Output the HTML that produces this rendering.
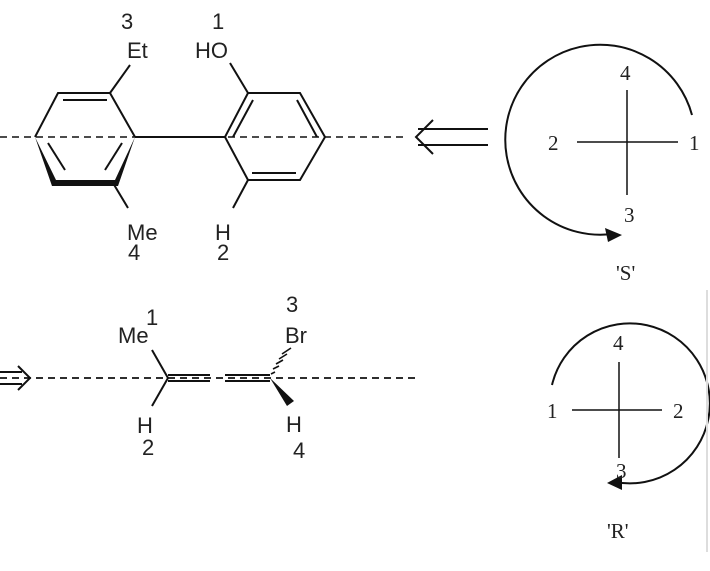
<!DOCTYPE html><html><head><style>body{margin:0;background:#fff}text{font-family:"Liberation Sans",sans-serif;font-size:22px;fill:#222}.s{font-family:"Liberation Serif",serif;font-size:21px}</style></head><body>
<svg width="710" height="566" viewBox="0 0 710 566" xmlns="http://www.w3.org/2000/svg" stroke="#111" stroke-width="2" fill="none">
<line x1="0" y1="137" x2="405" y2="137" stroke-dasharray="7,5" stroke-width="1.6"/>
<path d="M35 137 L58 93 L110 93 L135 137"/>
<line x1="63" y1="100" x2="107" y2="100"/>
<path d="M35 137 L52 186 L118 186 L135 137 L115 180 L56 180 Z" fill="#111" stroke="none"/>
<line x1="48" y1="143" x2="65" y2="170"/><line x1="122" y1="143" x2="105" y2="170"/>
<line x1="110" y1="93" x2="130" y2="65"/><line x1="113" y1="183" x2="128" y2="208"/>
<line x1="135" y1="137" x2="225" y2="137"/>
<path d="M225 137 L248 93 L300 93 L325 137 L300 180 L248 180 Z"/>
<line x1="233" y1="137" x2="253" y2="100"/><line x1="297" y1="100" x2="317" y2="137"/><line x1="252" y1="173" x2="296" y2="173"/>
<line x1="248" y1="93" x2="230" y2="63"/><line x1="248" y1="180" x2="233" y2="208"/>
<g stroke="none"><text x="121" y="29">3</text><text x="127" y="58">Et</text><text x="212" y="29">1</text><text x="195" y="58">HO</text>
<text x="127" y="240">Me</text><text x="128" y="260">4</text><text x="215" y="240">H</text><text x="217" y="260">2</text></g>
<line x1="418" y1="129" x2="488" y2="129"/><line x1="418" y1="145" x2="488" y2="145"/><path d="M433 120 L416 137 L433 154"/>
<line x1="577" y1="142" x2="678" y2="142" stroke-width="1.5"/><line x1="627" y1="90" x2="627" y2="195" stroke-width="1.5"/>
<path d="M692 115 A95 95 0 1 0 612 234" stroke-width="2"/><polygon points="622,235 605,228 608,242" fill="#111" stroke="none"/>
<g stroke="none"><text class="s" x="620" y="80">4</text><text class="s" x="548" y="150">2</text><text class="s" x="689" y="150">1</text><text class="s" x="624" y="222">3</text><text class="s" x="616" y="280">'S'</text></g>
<line x1="0" y1="378" x2="415" y2="378" stroke-dasharray="7,5" stroke-width="1.8"/>
<line x1="0" y1="372" x2="22" y2="372"/><line x1="0" y1="384" x2="22" y2="384"/><path d="M18 366 L30 378 L18 390"/>
<line x1="168" y1="375" x2="210" y2="375"/><line x1="225" y1="375" x2="270" y2="375"/><line x1="168" y1="381" x2="210" y2="381"/><line x1="225" y1="381" x2="270" y2="381"/>
<line x1="168" y1="378" x2="152" y2="350"/><line x1="168" y1="378" x2="152" y2="406"/>
<path d="M271 374 L275 372 M273 369 L279 366 M276 364 L283 360 M279 359 L287 354 M282 354 L291 348" stroke-width="1.6"/>
<polygon points="270,378 287,406 294,401" fill="#111" stroke="none"/>
<g stroke="none"><text x="146" y="325">1</text><text x="118" y="343">Me</text><text x="137" y="433">H</text><text x="142" y="455">2</text>
<text x="286" y="312">3</text><text x="285" y="343">Br</text><text x="286" y="432">H</text><text x="293" y="458">4</text></g>
<line x1="572" y1="410" x2="662" y2="410" stroke-width="1.5"/><line x1="619" y1="362" x2="619" y2="458" stroke-width="1.5"/>
<path d="M552 385 A80 80 0 1 1 615 482" stroke-width="2"/><polygon points="607,483 622,475 622,490" fill="#111" stroke="none"/>
<g stroke="none"><text class="s" x="613" y="350">4</text><text class="s" x="547" y="418">1</text><text class="s" x="673" y="418">2</text><text class="s" x="616" y="478">3</text><text class="s" x="607" y="538">'R'</text></g>
<line x1="707" y1="290" x2="707" y2="552" stroke="#ddd" stroke-width="2"/>
</svg></body></html>
